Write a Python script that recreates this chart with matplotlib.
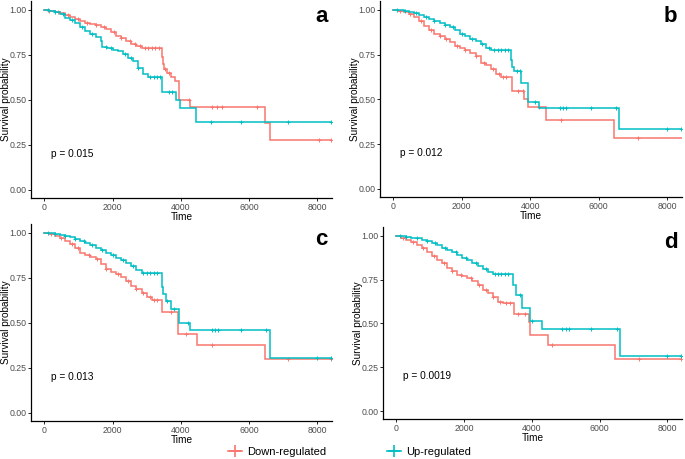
import matplotlib
matplotlib.use("Agg")
import matplotlib.pyplot as plt
from matplotlib.lines import Line2D
import numpy as np

plt.rcParams["font.family"] = ["Liberation Sans", "DejaVu Sans"]

RED = "#F8766D"
CYAN = "#00BFC4"
MAX_T = 8420

groups = ["Down-regulated", "Up-regulated"]
panel_labels = ["a", "b", "c", "d"]
p_values = ["p = 0.015", "p = 0.012", "p = 0.013", "p = 0.0019"]
x_ticks = [0, 2000, 4000, 6000, 8000]
y_ticks = [0.00, 0.25, 0.50, 0.75, 1.00]
y_ticklabels = ["0.00", "0.25", "0.50", "0.75", "1.00"]

# ---- panel a ----
a_down_t = [0, 150, 300, 450, 600, 750, 900, 1050, 1200, 1350, 1500, 1650, 1800, 1950, 2100, 2250, 2400,
            2550, 2700, 2850, 3440, 3470, 3520, 3600, 3700, 3820, 3960, 4280, 6470, 6600]
a_down_s = [1.0, 0.997, 0.99, 0.982, 0.973, 0.962, 0.952, 0.94, 0.93, 0.924, 0.916, 0.908, 0.895, 0.875,
            0.858, 0.843, 0.825, 0.81, 0.80, 0.79, 0.74, 0.70, 0.67, 0.65, 0.63, 0.605, 0.50, 0.46, 0.37, 0.275]
a_down_c = [150, 400, 700, 1000, 1250, 1500, 1750, 2050, 2250, 2500, 2650, 2800, 2950, 3050, 3150, 3250,
            3350, 3550, 3650, 4250, 4910, 5060, 5200, 6230, 8040, 8400]
a_up_t = [0, 150, 300, 450, 600, 750, 900, 1050, 1200, 1350, 1500, 1650, 1700, 1850, 2000, 2150, 2300,
          2450, 2600, 2750, 2900, 3050, 3450, 3860, 3980, 4450]
a_up_s = [1.0, 0.995, 0.988, 0.975, 0.958, 0.942, 0.925, 0.905, 0.885, 0.868, 0.85, 0.83, 0.797, 0.79,
          0.78, 0.77, 0.755, 0.735, 0.715, 0.68, 0.645, 0.625, 0.545, 0.50, 0.455, 0.38]
a_up_c = [100, 300, 550, 800, 1100, 1400, 1800, 1950, 2350, 2550, 2750, 3100, 3200, 3300, 3380, 3650,
          3740, 4880, 5760, 7140, 8400]

# ---- panel b ----
b_down_t = [0, 150, 300, 450, 600, 750, 900, 1050, 1200, 1350, 1500, 1650, 1800, 1950, 2100, 2250, 2400,
            2550, 2700, 2850, 3000, 3150, 3460, 3830, 3940, 4460, 6430]
b_down_s = [1.0, 0.996, 0.988, 0.975, 0.96, 0.94, 0.912, 0.89, 0.868, 0.855, 0.838, 0.82, 0.797, 0.788,
            0.778, 0.758, 0.74, 0.705, 0.69, 0.67, 0.64, 0.625, 0.545, 0.50, 0.46, 0.385, 0.285]
b_down_c = [200, 500, 800, 1100, 1350, 1550, 1850, 2100, 2400, 2650, 2900, 3100, 3200, 3300, 3650, 3800,
            4250, 4900, 7150]
b_up_t = [0, 150, 300, 450, 600, 750, 900, 1050, 1200, 1350, 1500, 1650, 1800, 1950, 2100, 2250, 2400,
          2550, 2700, 2850, 3440, 3470, 3530, 3730, 3940, 4260, 6590]
b_up_s = [1.0, 0.998, 0.995, 0.99, 0.982, 0.972, 0.962, 0.95, 0.938, 0.928, 0.915, 0.903, 0.888, 0.868,
          0.855, 0.84, 0.828, 0.812, 0.79, 0.775, 0.72, 0.68, 0.66, 0.59, 0.488, 0.45, 0.336]
b_up_c = [100, 350, 650, 950, 1200, 1500, 1750, 2000, 2300, 2600, 2800, 2950, 3050, 3150, 3250, 3350,
          3600, 3700, 4150, 4880, 4950, 5050, 5760, 6500, 8000, 8400]

# ---- panel c ----
c_down_t = [0, 150, 300, 450, 600, 750, 900, 1050, 1200, 1350, 1500, 1650, 1800, 1950, 2100, 2250, 2400,
            2550, 2700, 2850, 3000, 3150, 3450, 3920, 4470, 6470]
c_down_s = [1.0, 0.993, 0.982, 0.97, 0.958, 0.94, 0.915, 0.89, 0.875, 0.865, 0.853, 0.83, 0.80, 0.785,
            0.772, 0.755, 0.735, 0.705, 0.69, 0.668, 0.645, 0.627, 0.56, 0.44, 0.375, 0.30]
c_down_c = [200, 500, 800, 1000, 1300, 1550, 1800, 2150, 2450, 2700, 2900, 3100, 3200, 3300, 3700, 4150,
            4900, 7150, 8400]
c_up_t = [0, 150, 300, 450, 600, 750, 900, 1050, 1200, 1350, 1500, 1650, 1800, 1950, 2100, 2250, 2400,
          2550, 2700, 2850, 3450, 3470, 3560, 3700, 3935, 4280, 6620]
c_up_s = [1.0, 0.998, 0.995, 0.99, 0.985, 0.978, 0.968, 0.958, 0.945, 0.932, 0.918, 0.903, 0.89, 0.875,
          0.862, 0.848, 0.832, 0.815, 0.795, 0.775, 0.70, 0.66, 0.62, 0.58, 0.50, 0.46, 0.305]
c_up_c = [100, 300, 600, 900, 1150, 1400, 1700, 2000, 2300, 2600, 2900, 3000, 3100, 3200, 3300, 3600,
          3800, 4200, 4900, 5000, 5100, 5750, 6500, 8000, 8400]

# ---- panel d ----
d_down_t = [0, 150, 300, 450, 600, 750, 900, 1050, 1200, 1350, 1500, 1650, 1800, 1950, 2100, 2250, 2400,
            2550, 2700, 2850, 3000, 3150, 3460, 3920, 3960, 4470, 6460]
d_down_s = [1.0, 0.99, 0.978, 0.965, 0.948, 0.93, 0.905, 0.885, 0.862, 0.845, 0.818, 0.797, 0.778, 0.77,
            0.758, 0.74, 0.72, 0.69, 0.672, 0.65, 0.625, 0.616, 0.553, 0.51, 0.435, 0.375, 0.30]
d_down_c = [200, 500, 800, 1100, 1400, 1650, 1900, 2200, 2450, 2650, 2850, 3050, 3250, 3350, 3600, 3800,
            4600, 7150, 8400]
d_up_t = [0, 150, 300, 450, 600, 750, 900, 1050, 1200, 1350, 1500, 1650, 1800, 1950, 2100, 2250, 2400,
          2550, 2700, 2850, 3450, 3520, 3700, 3950, 4295, 6600]
d_up_s = [1.0, 0.998, 0.995, 0.99, 0.985, 0.977, 0.968, 0.958, 0.945, 0.932, 0.918, 0.905, 0.89, 0.873,
          0.86, 0.845, 0.83, 0.812, 0.795, 0.782, 0.72, 0.66, 0.59, 0.515, 0.47, 0.315]
d_up_c = [100, 300, 600, 900, 1150, 1450, 1750, 2050, 2350, 2650, 2900, 3000, 3100, 3200, 3300, 3650,
          4000, 4900, 5000, 5100, 5750, 6500, 8000, 8400]

panels = [
    (a_down_t, a_down_s, a_down_c, a_up_t, a_up_s, a_up_c),
    (b_down_t, b_down_s, b_down_c, b_up_t, b_up_s, b_up_c),
    (c_down_t, c_down_s, c_down_c, c_up_t, c_up_s, c_up_c),
    (d_down_t, d_down_s, d_down_c, d_up_t, d_up_s, d_up_c),
]

W, H = 685, 459
# axes rectangles in pixels: left, top, right, bottom
rects = [(31, 1, 332, 198), (380, 1, 682, 197), (31, 224, 332, 421), (383, 227, 682, 419)]

fig = plt.figure(figsize=(W / 100, H / 100), dpi=100)


def step_draw(ax, t, s, c, color):
    tt = np.array(list(t) + [MAX_T], dtype=float)
    ss = np.array(list(s) + [s[-1]], dtype=float)
    ax.plot(tt, ss, drawstyle="steps-post", color=color, lw=1.1, solid_joinstyle="miter")
    ct = np.array(c, dtype=float)
    idx = np.searchsorted(np.array(t, dtype=float), ct, side="right") - 1
    cs = np.array(s, dtype=float)[idx]
    ax.plot(ct, cs, linestyle="none", marker="+", color=color, markersize=3.5, mew=0.7)


for i, (rect, data) in enumerate(zip(rects, panels)):
    l, t_, r, b = rect
    ax = fig.add_axes([l / W, 1 - b / H, (r - l) / W, (b - t_) / H])
    dt, ds, dc, ut, us, uc = data
    step_draw(ax, dt, ds, dc, RED)
    step_draw(ax, ut, us, uc, CYAN)
    ax.set_xlim(-390, 8430)
    ax.set_ylim(-0.045, 1.05)
    ax.set_xticks(x_ticks)
    ax.set_yticks(y_ticks)
    ax.set_yticklabels(y_ticklabels)
    ax.tick_params(labelsize=6.3, length=2.2, width=0.6, pad=1.2, colors="black", labelcolor="#4d4d4d")
    for sp in ["top", "right"]:
        ax.spines[sp].set_visible(False)
    for sp in ["left", "bottom"]:
        ax.spines[sp].set_linewidth(0.9)
        ax.spines[sp].set_color("black")
    ax.set_xlabel("Time", fontsize=7.3, labelpad=0.5)
    ax.set_ylabel("Survival probability", fontsize=7.2)
    ax.yaxis.label.set_va("center")
    ax.yaxis.set_label_coords(-25.0 / (r - l), 0.5)
    ax.text(200, 0.2, p_values[i], fontsize=7.3, va="center", ha="left", color="black")
    ax.text(0.985, 0.975, panel_labels[i], transform=ax.transAxes, fontsize=16,
            fontweight="bold", ha="right", va="top")

handles = [Line2D([0], [0], color=RED, lw=1.2, marker="+", markersize=8, mew=1.2),
           Line2D([0], [0], color=CYAN, lw=1.2, marker="+", markersize=8, mew=1.2)]
fig.legend(handles, groups, loc="center", bbox_to_anchor=(0.51, 1 - 452 / H), ncol=2,
           frameon=False, fontsize=8, handlelength=1.3, handletextpad=0.4, columnspacing=5.5)

fig.savefig("out.png", dpi=100)
